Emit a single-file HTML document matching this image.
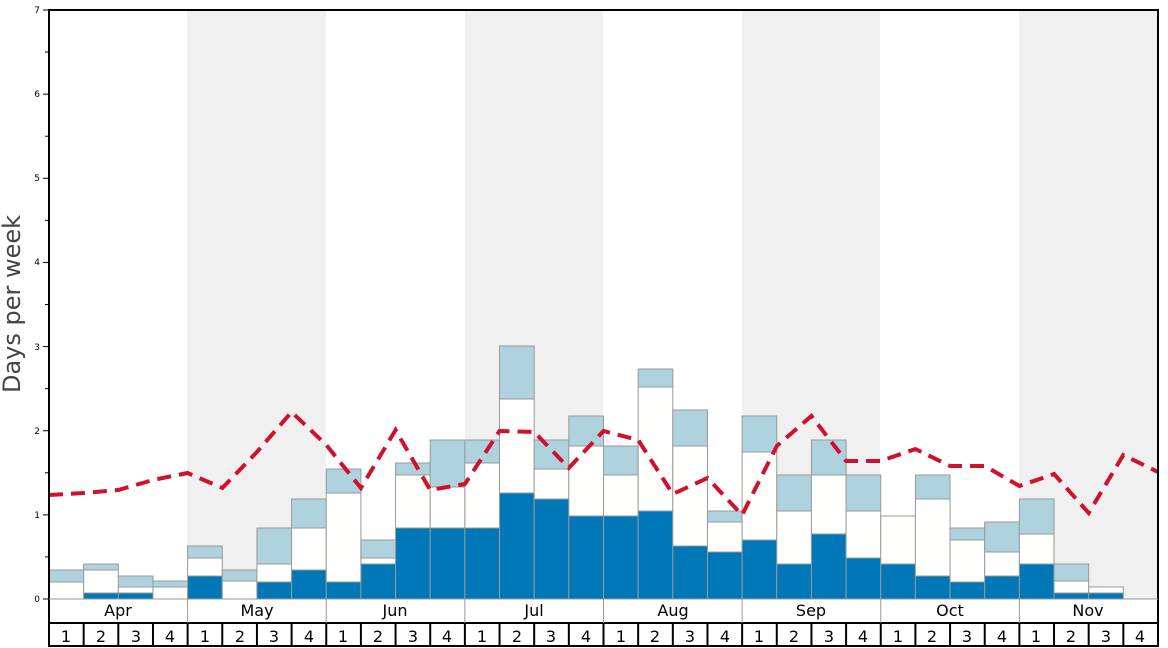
<!DOCTYPE html>
<html><head><meta charset="utf-8"><style>
body{margin:0;background:#fff;}
svg{display:block;font-family:"DejaVu Sans","Liberation Sans",sans-serif;}
</style></head><body>
<svg id="s" width="1168" height="648" viewBox="0 0 1168 648">
<rect x="187" y="10" width="139" height="589" fill="#f0f0f0"/>
<rect x="465" y="10" width="138" height="589" fill="#f0f0f0"/>
<rect x="742" y="10" width="138" height="589" fill="#f0f0f0"/>
<rect x="1019" y="10" width="139" height="589" fill="#f0f0f0"/>
<g id="bars"></g>
<polyline id="line" fill="none" stroke="#d0102c" stroke-width="4" stroke-dasharray="14,8"/>
<rect x="49" y="10" width="1109" height="636" fill="none" stroke="#000" stroke-width="2"/>
<line x1="49" y1="599" x2="1158" y2="599" stroke="#999" stroke-width="1"/>
<line x1="49" y1="623" x2="1158" y2="623" stroke="#000" stroke-width="2"/>
<g id="ticks" stroke="#000" stroke-width="1"></g>
<g font-size="9" text-anchor="end" fill="#000">
<text x="40" y="602">0</text><text x="40" y="518">1</text><text x="40" y="434">2</text><text x="40" y="350">3</text><text x="40" y="265">4</text><text x="40" y="181">5</text><text x="40" y="97">6</text><text x="40" y="13">7</text>
</g>
<text transform="translate(20,304) rotate(-90)" font-size="24" fill="#444" text-anchor="middle">Days per week</text>
<g font-size="16" text-anchor="middle" fill="#000">
<text x="118" y="616">Apr</text><text x="257" y="616">May</text><text x="395" y="616">Jun</text><text x="534" y="616">Jul</text><text x="673" y="616">Aug</text><text x="811" y="616">Sep</text><text x="950" y="616">Oct</text><text x="1088" y="616">Nov</text>
</g>
<g id="wk" font-size="16" text-anchor="middle" fill="#000">
<text x="66" y="642">1</text><text x="101" y="642">2</text><text x="136" y="642">3</text><text x="170" y="642">4</text>
<text x="205" y="642">1</text><text x="240" y="642">2</text><text x="274" y="642">3</text><text x="309" y="642">4</text>
<text x="343" y="642">1</text><text x="378" y="642">2</text><text x="413" y="642">3</text><text x="447" y="642">4</text>
<text x="482" y="642">1</text><text x="517" y="642">2</text><text x="551" y="642">3</text><text x="586" y="642">4</text>
<text x="621" y="642">1</text><text x="655" y="642">2</text><text x="690" y="642">3</text><text x="725" y="642">4</text>
<text x="759" y="642">1</text><text x="794" y="642">2</text><text x="829" y="642">3</text><text x="863" y="642">4</text>
<text x="898" y="642">1</text><text x="932" y="642">2</text><text x="967" y="642">3</text><text x="1002" y="642">4</text>
<text x="1036" y="642">1</text><text x="1071" y="642">2</text><text x="1106" y="642">3</text><text x="1140" y="642">4</text>
</g>
</svg>
<script>
var ns="http://www.w3.org/2000/svg";
var W=1109/32;
var d=[[599,582,570],[593,570,564],[593,587,576],[599,587,581],[576,558,546],[599,581,570],[582,564,528],[570,528,499],
[582,493,469],[564,558,540],[528,475,463],[528,487,440],[528,463,440],[493,399,346],[499,469,440],[516,446,416],
[516,475,446],[511,387,369],[546,446,410],[552,522,511],[540,452,416],[564,511,475],[534,475,440],[558,511,475],
[564,516,516],[576,499,475],[582,540,528],[576,552,522],[564,534,499],[593,581,564],[593,587,587],[599,599,599]];
var g=document.getElementById("bars");
function r(x,y,w,h,f){if(h<=0)return;var e=document.createElementNS(ns,"rect");e.setAttribute("x",x);e.setAttribute("y",y);e.setAttribute("width",w);e.setAttribute("height",h);e.setAttribute("fill",f);e.setAttribute("stroke","#999");e.setAttribute("stroke-width","1");g.appendChild(e);}
d.forEach(function(v,i){var x=49+i*W;r(x,v[2],W,v[1]-v[2],"#aed3df");r(x,v[1],W,v[0]-v[1],"#fffffd");r(x,v[0],W,599-v[0],"#0077b6");});
var ly=[495,493,490,480,473,488,452,412,445,488,430,490,484,431,432,468,431,440,494,478,515,446,416,461,461,449,466,466,486,474,513,455,472];
document.getElementById("line").setAttribute("points",ly.map(function(y,i){return (49+i*W).toFixed(1)+","+y}).join(" "));
var t=document.getElementById("ticks");
for(var k=0;k<=14;k++){var y=599-k*589/14;var l=document.createElementNS(ns,"line");l.setAttribute("x1",k%2?45:43);l.setAttribute("x2",49);l.setAttribute("y1",y);l.setAttribute("y2",y);t.appendChild(l);}
for(var i=1;i<32;i++){var x=49+i*W;var l=document.createElementNS(ns,"line");l.setAttribute("x1",x);l.setAttribute("x2",x);l.setAttribute("y1",623);l.setAttribute("y2",646);l.setAttribute("stroke-width",2);t.appendChild(l);
if(i%4==0){var m=document.createElementNS(ns,"line");m.setAttribute("x1",x);m.setAttribute("x2",x);m.setAttribute("y1",599);m.setAttribute("y2",623);m.setAttribute("stroke","#999");t.appendChild(m);}}
</script>
</body></html>
